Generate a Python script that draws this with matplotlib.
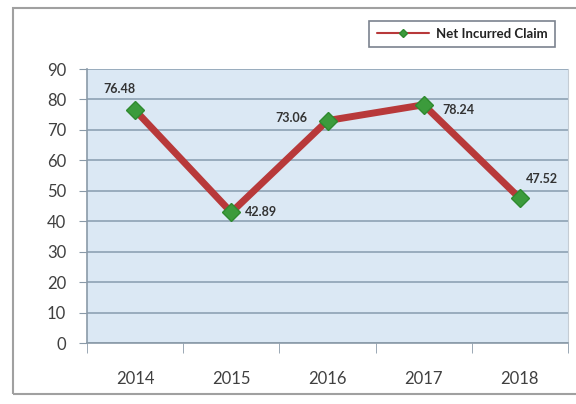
import matplotlib.pyplot as plt
from matplotlib.patches import Rectangle

# Net incurred claim ratio by year
years = ['2014', '2015', '2016', '2017', '2018']
claims = [76.48, 42.89, 73.06, 78.24, 47.52]
y_ticks = [0, 10, 20, 30, 40, 50, 60, 70, 80, 90]

# label offsets in points (dx, dy) for each data label
label_offsets = [(-11, 15), (21, 0), (-26, 2), (25, -4), (16, 14)]

plt.rcParams['font.family'] = ['Lato', 'DejaVu Sans']

fig = plt.figure(figsize=(5.76, 4.04), dpi=100)
fig.patch.set_facecolor('white')

# outer chart frame
fig.patches.append(Rectangle((13 / 576, 10 / 404), 1.0, 1 - 18 / 404,
                             transform=fig.transFigure, fill=False,
                             edgecolor='#a0a0a0', linewidth=1.5))

ax = fig.add_axes([87 / 576, 1 - 343 / 404, 481 / 576, 274 / 404])
ax.set_facecolor('#dbe8f4')

x = list(range(len(years)))
line, = ax.plot(x, claims, color='#b8393a', linewidth=5, solid_capstyle='round',
                marker='D', markersize=9, markerfacecolor='#3c9b3c',
                markeredgecolor='#2f8a2f', label='Net Incurred Claim', zorder=3)

for xi, val, (dx, dy) in zip(x, claims, label_offsets):
    ax.annotate(f'{val:.2f}', (xi, val), xytext=(dx, dy), textcoords='offset points',
                ha='center', va='center', fontsize=9, fontweight='bold', color='#333333')

ax.set_xlim(-0.5, len(years) - 0.5)
ax.set_ylim(0, 90)
ax.set_yticks(y_ticks)
ax.set_xticks(x)
ax.set_xticklabels(years)
ax.set_xticks([i + 0.5 for i in range(-1, len(years))], minor=True)
ax.tick_params(axis='x', which='major', length=0, pad=20, labelsize=12, labelcolor='#404040')
ax.tick_params(axis='x', which='minor', length=7, color='#8a9aa8', direction='out')
ax.tick_params(axis='y', length=6, color='#8a9aa8', labelsize=12, labelcolor='#404040', pad=9)

ax.yaxis.grid(True, color='#8ea2b4', linewidth=1.2)
ax.set_axisbelow(True)
ax.spines['top'].set_visible(False)
ax.spines['right'].set_color('#c4ccd4')
for side in ['left', 'bottom']:
    ax.spines[side].set_color('#8a9aa8')
    ax.spines[side].set_linewidth(1.2)

leg = fig.legend(handles=[line], loc='center', bbox_to_anchor=(462 / 576, 1 - 34 / 404),
                 frameon=True, fancybox=False, handlelength=4.0, fontsize=9.5,
                 borderpad=0.55, handletextpad=0.5, markerscale=0.5)
leg.get_frame().set_edgecolor('#5a6472')
leg.get_frame().set_linewidth(1.2)
for t in leg.get_texts():
    t.set_fontweight('bold')
    t.set_color('#222222')
leg.get_lines()[0].set_linewidth(1.5)

fig.savefig('out.png', dpi=100)
